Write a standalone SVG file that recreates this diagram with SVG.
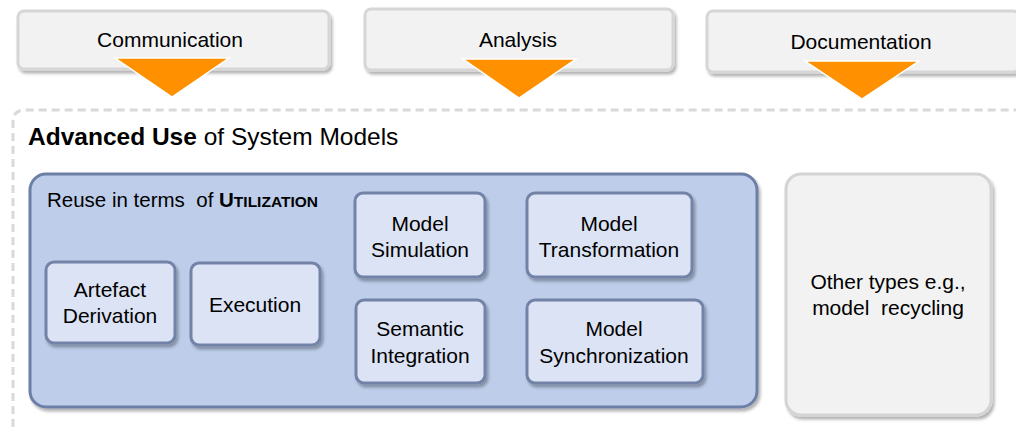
<svg xmlns="http://www.w3.org/2000/svg" width="1016" height="429" viewBox="0 0 1016 429">
  <defs>
    <filter id="shadow" x="-10%" y="-10%" width="125%" height="130%">
      <feDropShadow dx="2" dy="3" stdDeviation="1.5" flood-color="#000000" flood-opacity="0.3"/>
    </filter>
    <style>
      text { font-family: "Liberation Sans", Arial, sans-serif; fill: #000000; }
      .tab { fill: #f2f2f2; stroke: #d6d6d6; stroke-width: 3; filter: url(#shadow); }
      .tab-label { font-size: 21px; text-anchor: middle; }
      .arrow { fill: #ff9100; stroke: #ffffff; stroke-width: 1.5; stroke-linejoin: miter; }
      .frame { fill: none; stroke: #d9d9d9; stroke-width: 3; stroke-dasharray: 8 5; }
      .util { fill: #bdcdea; stroke: #6c7fa6; stroke-width: 3; filter: url(#shadow); }
      .item { fill: #dce3f5; stroke: #7283a7; stroke-width: 3; filter: url(#shadow); }
      .item-label { font-size: 21px; text-anchor: middle; }
      .other { fill: #f2f2f2; stroke: #d4d4d4; stroke-width: 3; filter: url(#shadow); }
    </style>
  </defs>

  <rect width="1016" height="429" fill="#ffffff"/>

  <!-- dashed frame of the advanced-use area (runs off the right and bottom edges) -->
  <path class="frame" d="M 13 440 L 13 122 Q 13 110 25 110 L 1030 110"/>

  <!-- top tabs -->
  <g id="tab-communication">
    <rect class="tab" x="18" y="11" width="311" height="58" rx="6"/>
    <text class="tab-label" x="170" y="47">Communication</text>
  </g>
  <g id="tab-analysis">
    <rect class="tab" x="365" y="9" width="308" height="61" rx="6"/>
    <text class="tab-label" x="518" y="47">Analysis</text>
  </g>
  <g id="tab-documentation">
    <rect class="tab" x="707" y="11" width="312" height="61" rx="6"/>
    <text class="tab-label" x="861" y="49">Documentation</text>
  </g>

  <!-- arrows pointing into the advanced-use area -->
  <g id="connectors">
    <polygon class="arrow" points="115,58 229,58 172,97"/>
    <polygon class="arrow" points="463,59 576,59 519,98"/>
    <polygon class="arrow" points="805,61 919,61 862,99"/>
  </g>

  <!-- heading -->
  <g id="heading">
    <text x="28" y="145" font-size="24.5px"><tspan font-weight="bold">Advanced Use</tspan> of System Models</text>
  </g>

  <!-- utilization container -->
  <g id="utilization">
    <rect class="util" x="30" y="174" width="727" height="233" rx="16"/>
    <text x="47" y="207" font-size="20.5px" xml:space="preserve">Reuse in terms  of <tspan font-weight="bold">U</tspan><tspan font-weight="bold" font-size="15.5px">TILIZATION</tspan></text>
  </g>

  <g id="artefact-derivation">
    <rect class="item" x="46" y="262" width="129" height="81" rx="8"/>
    <text class="item-label" x="110" y="297">Artefact</text>
    <text class="item-label" x="110" y="323">Derivation</text>
  </g>
  <g id="execution">
    <rect class="item" x="191" y="263" width="129" height="82" rx="8"/>
    <text class="item-label" x="255" y="312">Execution</text>
  </g>
  <g id="model-simulation">
    <rect class="item" x="355" y="193" width="130" height="84" rx="8"/>
    <text class="item-label" x="420" y="231">Model</text>
    <text class="item-label" x="420" y="257">Simulation</text>
  </g>
  <g id="model-transformation">
    <rect class="item" x="527" y="193" width="165" height="84" rx="8"/>
    <text class="item-label" x="609" y="231">Model</text>
    <text class="item-label" x="609" y="257">Transformation</text>
  </g>
  <g id="semantic-integration">
    <rect class="item" x="356" y="300" width="129" height="83" rx="8"/>
    <text class="item-label" x="420" y="336">Semantic</text>
    <text class="item-label" x="420" y="363">Integration</text>
  </g>
  <g id="model-synchronization">
    <rect class="item" x="527" y="300" width="176" height="83" rx="8"/>
    <text class="item-label" x="614" y="336">Model</text>
    <text class="item-label" x="614" y="363">Synchronization</text>
  </g>

  <!-- other kinds of reuse -->
  <g id="other-types">
    <rect class="other" x="786" y="174" width="205" height="241" rx="15"/>
    <text class="item-label" x="888" y="289">Other types e.g.,</text>
    <text class="item-label" x="888" y="315" xml:space="preserve">model  recycling</text>
  </g>
</svg>
